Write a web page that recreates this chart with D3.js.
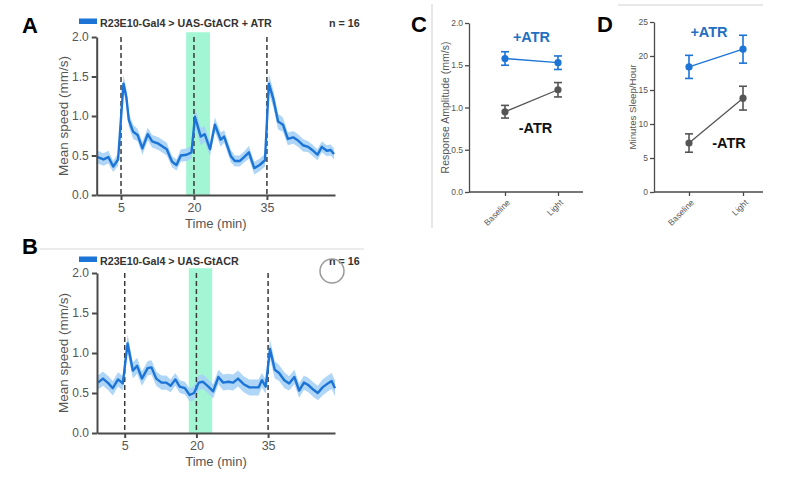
<!DOCTYPE html>
<html>
<head>
<meta charset="utf-8">
<script src="https://cdn.jsdelivr.net/npm/d3@7"></script>
<style>
  body { margin: 0; background: #fff; }
  svg { display: block; font-family: "Liberation Sans", Arial, Helvetica, sans-serif; }
</style>
</head>
<body>
<svg id="fig" width="795" height="498"></svg>
<script>
"use strict";

// ---- data ----

// panel A : R23E10-Gal4 > UAS-GtACR + ATR
var timeA = [0.2, 1.4, 2.4, 3.4, 4.4, 5.5, 6.1, 6.6, 7.5, 8.4,
             9.4, 10.5, 11.4, 12.7, 14.4, 15.5, 16.4, 17.3, 18.5, 19.5,
             20.2, 21.4, 22.2, 23.3, 24.3, 25.5, 26.2, 27.6, 28.4, 29.4,
             30.3, 31.3, 32.4, 33.5, 34.6, 35.4, 36.3, 37.3, 38.3, 39.3,
             40.4, 41.4, 42.4, 43.5, 44.3, 45.4, 46.3, 47.3, 48.1, 48.8];
var speedA = [0.48, 0.45, 0.48, 0.36, 0.45, 1.41, 1.24, 0.95, 0.80, 0.76,
              0.59, 0.77, 0.68, 0.65, 0.58, 0.42, 0.38, 0.50, 0.51, 0.54,
              0.99, 0.74, 0.77, 0.58, 0.89, 0.70, 0.74, 0.49, 0.43, 0.43,
              0.48, 0.54, 0.34, 0.38, 0.44, 1.41, 1.22, 0.93, 0.89, 0.71,
              0.73, 0.69, 0.63, 0.61, 0.57, 0.51, 0.61, 0.56, 0.57, 0.52];
var semA = [0.08, 0.08, 0.08, 0.07, 0.08, 0.11, 0.10, 0.09, 0.09, 0.08,
            0.08, 0.08, 0.08, 0.08, 0.08, 0.07, 0.07, 0.08, 0.08, 0.08,
            0.12, 0.11, 0.10, 0.09, 0.09, 0.09, 0.08, 0.08, 0.07, 0.07,
            0.07, 0.08, 0.08, 0.08, 0.08, 0.12, 0.11, 0.10, 0.09, 0.08,
            0.08, 0.08, 0.08, 0.07, 0.07, 0.07, 0.07, 0.07, 0.07, 0.07];

// panel B : R23E10-Gal4 > UAS-GtACR (no ATR)
var timeB = [-0.6, 0.45, 1.6, 2.5, 3.6, 4.6, 5.6, 6.7, 7.6, 8.6,
             9.8, 10.6, 11.6, 12.7, 13.7, 14.6, 15.6, 16.5, 17.6, 18.6,
             19.5, 20.5, 21.4, 22.5, 23.5, 24.6, 25.6, 26.7, 27.7, 28.7,
             29.9, 31.1, 32.1, 33.0, 33.7, 34.5, 35.4, 36.4, 37.3, 38.4,
             39.4, 40.5, 41.5, 42.5, 43.4, 44.5, 45.4, 46.4, 47.5, 48.3, 49.0];
var speedB = [0.63, 0.68, 0.62, 0.56, 0.67, 0.62, 1.12, 0.78, 0.84, 0.68,
              0.81, 0.82, 0.68, 0.63, 0.63, 0.59, 0.67, 0.58, 0.56, 0.475,
              0.50, 0.63, 0.64, 0.58, 0.52, 0.70, 0.63, 0.64, 0.63, 0.68,
              0.61, 0.57, 0.57, 0.57, 0.66, 0.58, 1.05, 0.79, 0.75, 0.66,
              0.62, 0.70, 0.53, 0.63, 0.60, 0.54, 0.50, 0.57, 0.62, 0.65, 0.56];
var semB = [0.09, 0.09, 0.09, 0.09, 0.09, 0.09, 0.11, 0.10, 0.10, 0.09,
            0.09, 0.09, 0.09, 0.09, 0.09, 0.08, 0.08, 0.08, 0.08, 0.08,
            0.09, 0.09, 0.09, 0.09, 0.09, 0.09, 0.10, 0.10, 0.10, 0.10,
            0.10, 0.10, 0.10, 0.10, 0.09, 0.09, 0.12, 0.11, 0.10, 0.10,
            0.09, 0.09, 0.09, 0.09, 0.09, 0.09, 0.09, 0.10, 0.10, 0.10, 0.10];

var lightOnsets = [5, 20, 35];
var lightWindow = [18.4, 23.3];
var timeTicks = [5, 20, 35];
var speedTicks = [0, 0.5, 1, 1.5, 2];

// panels C and D
var groups = ["Baseline", "Light"];
var ampPlus = [1.58, 1.53],  ampPlusErr = [0.08, 0.08];
var ampMinus = [0.95, 1.21], ampMinusErr = [0.075, 0.085];
var ampTicks = [0, 0.5, 1, 1.5, 2];
var sleepPlus = [18.4, 21.0], sleepPlusErr = [1.7, 2.05];
var sleepMinus = [7.2, 13.8], sleepMinusErr = [1.35, 1.75];
var sleepTicks = [0, 5, 10, 15, 20, 25];

// ---- styling ----
var BLUE = "#1b74d6";
var BAND = "#a6d2f6";
var GREEN = "#a2f6d3";
var AXIS = "#4a4a4a";
var GREYPT = "#555555";

var svg = d3.select("#fig");

var styleAxis = function(g, width, fontSize)
{
    g.selectAll("path.domain").attr("stroke", AXIS).attr("stroke-width", width);
    g.selectAll(".tick line").attr("stroke", AXIS).attr("stroke-width", width);
    g.selectAll(".tick text").attr("fill", "#555").style("font-size", fontSize + "px")
        .style("font-family", "\"Liberation Sans\", Arial, sans-serif");
};

// time course panel (A, B)
var tracePanel = function(cfg)
{
    var g = svg.append("g");
    var x = d3.scaleLinear().domain(cfg.xDomain).range(cfg.xRange);
    var y = d3.scaleLinear().domain([0, 2]).range(cfg.yRange);

    // light stimulation window
    g.append("rect")
        .attr("x", x(lightWindow[0]))
        .attr("width", x(lightWindow[1]) - x(lightWindow[0]))
        .attr("y", y(2.06))
        .attr("height", y(0) - y(2.06))
        .attr("fill", GREEN);

    var pts = cfg.t.map(function(t, i) { return { t: t, v: cfg.v[i], e: cfg.e[i] }; });

    // SEM band
    g.append("path").datum(pts)
        .attr("d", d3.area()
            .x(function(d) { return x(d.t); })
            .y0(function(d) { return y(d.v - d.e); })
            .y1(function(d) { return y(d.v + d.e); }))
        .attr("fill", BAND)
        .attr("opacity", 0.9);

    // dashed onset markers
    g.selectAll("line.onset").data(lightOnsets).enter().append("line")
        .attr("class", "onset")
        .attr("x1", function(d) { return x(d); })
        .attr("x2", function(d) { return x(d); })
        .attr("y1", y(2))
        .attr("y2", y(0))
        .attr("stroke", "#3a3a3a")
        .attr("stroke-width", 1.5)
        .attr("stroke-dasharray", "5,3");

    // mean trace
    g.append("path").datum(pts)
        .attr("d", d3.line()
            .x(function(d) { return x(d.t); })
            .y(function(d) { return y(d.v); }))
        .attr("fill", "none")
        .attr("stroke", BLUE)
        .attr("stroke-width", 2.4)
        .attr("stroke-linejoin", "round");

    // axes
    var yAxis = g.append("g")
        .attr("transform", "translate(" + cfg.xRange[0] + ",0)")
        .call(d3.axisLeft(y).tickValues(speedTicks).tickFormat(d3.format(".1f"))
            .tickSize(5).tickSizeOuter(0).tickPadding(3));
    styleAxis(yAxis, 2, 12);

    var xAxis = g.append("g")
        .attr("transform", "translate(0," + y(0) + ")")
        .call(d3.axisBottom(x).tickValues(timeTicks).tickSize(5).tickSizeOuter(0).tickPadding(3));
    styleAxis(xAxis, 2, 12.5);

    var xMid = (cfg.xRange[0] + cfg.xRange[1]) / 2;
    g.append("text")
        .attr("x", xMid).attr("y", y(0) + 33)
        .attr("text-anchor", "middle").attr("fill", "#555").style("font-size", "13px")
        .text("Time (min)");
    g.append("text")
        .attr("transform", "translate(" + (cfg.xRange[0] - 29) + "," + ((y(0) + y(2)) / 2) + ") rotate(-90)")
        .attr("text-anchor", "middle").attr("fill", "#555").style("font-size", "13.5px")
        .text("Mean speed (mm/s)");

    // legend
    g.append("rect")
        .attr("x", 79).attr("y", cfg.legendY - 3).attr("width", 18).attr("height", 5.5)
        .attr("fill", BLUE);
    g.append("text")
        .attr("x", 100).attr("y", cfg.legendY + 5)
        .attr("fill", "#333").style("font-size", "10.7px").style("font-weight", "bold")
        .text(cfg.legend);
    g.append("text")
        .attr("x", 329).attr("y", cfg.legendY + 5)
        .attr("fill", "#333").style("font-size", "10.7px").style("font-weight", "bold")
        .text("n = 16");

    // panel letter
    g.append("text")
        .attr("x", 22).attr("y", cfg.letterY)
        .attr("fill", "#000").style("font-size", "22px").style("font-weight", "bold")
        .text(cfg.letter);
};

// two point comparison panel (C, D)
var pairPanel = function(cfg)
{
    var g = svg.append("g");
    var x = d3.scalePoint().domain(groups).range([cfg.cat0, cfg.cat1]);
    var y = d3.scaleLinear().domain([0, cfg.yMax]).range([cfg.y0, cfg.y1]);

    var series = [
        { vals: cfg.minus, errs: cfg.minusErr, color: GREYPT },
        { vals: cfg.plus,  errs: cfg.plusErr,  color: BLUE }
    ];

    series.forEach(function(s)
    {
        var pts = groups.map(function(k, i) { return { k: k, v: s.vals[i], e: s.errs[i] }; });

        g.append("path").datum(pts)
            .attr("d", d3.line().x(function(d) { return x(d.k); }).y(function(d) { return y(d.v); }))
            .attr("fill", "none").attr("stroke", s.color).attr("stroke-width", 1.3);

        var eb = g.selectAll(null).data(pts).enter().append("g").attr("stroke", s.color).attr("stroke-width", 1.6);
        eb.append("line")
            .attr("x1", function(d) { return x(d.k); }).attr("x2", function(d) { return x(d.k); })
            .attr("y1", function(d) { return y(d.v - d.e); }).attr("y2", function(d) { return y(d.v + d.e); });
        eb.append("line")
            .attr("x1", function(d) { return x(d.k) - 4; }).attr("x2", function(d) { return x(d.k) + 4; })
            .attr("y1", function(d) { return y(d.v - d.e); }).attr("y2", function(d) { return y(d.v - d.e); });
        eb.append("line")
            .attr("x1", function(d) { return x(d.k) - 4; }).attr("x2", function(d) { return x(d.k) + 4; })
            .attr("y1", function(d) { return y(d.v + d.e); }).attr("y2", function(d) { return y(d.v + d.e); });

        g.selectAll(null).data(pts).enter().append("circle")
            .attr("cx", function(d) { return x(d.k); })
            .attr("cy", function(d) { return y(d.v); })
            .attr("r", 3.6)
            .attr("fill", s.color);
    });

    // axes
    var yAxis = g.append("g")
        .attr("transform", "translate(" + cfg.left + ",0)")
        .call(d3.axisLeft(y).tickValues(cfg.ticks).tickFormat(cfg.fmt).tickSize(4).tickSizeOuter(0).tickPadding(2));
    styleAxis(yAxis, 1.3, 8.5);

    var xAxis = g.append("g")
        .attr("transform", "translate(0," + cfg.y0 + ")")
        .call(d3.axisBottom(x).tickSize(4).tickSizeOuter(0));
    xAxis.select("path.domain").attr("d", "M" + cfg.left + ",0H" + cfg.right);
    styleAxis(xAxis, 1.3, 8.5);
    xAxis.selectAll(".tick text")
        .attr("y", 0).attr("dy", "0.35em")
        .attr("text-anchor", "end")
        .attr("transform", "translate(3,9) rotate(-45)");

    g.append("text")
        .attr("transform", "translate(" + cfg.yLabelX + "," + ((cfg.y0 + cfg.y1) / 2) + ") rotate(-90)")
        .attr("text-anchor", "middle").attr("fill", "#555").style("font-size", cfg.yLabelSize + "px")
        .text(cfg.yLabel);

    // group labels
    var mid = (x(groups[0]) + x(groups[1])) / 2;
    g.append("text")
        .attr("x", mid + cfg.plusDx).attr("y", y(cfg.plusAt))
        .attr("text-anchor", "middle").attr("fill", "#1f6fc2")
        .style("font-size", "14.5px").style("font-weight", "bold")
        .text("+ATR");
    g.append("text")
        .attr("x", mid + cfg.minusDx).attr("y", y(cfg.minusAt))
        .attr("text-anchor", "middle").attr("fill", "#111")
        .style("font-size", "14.5px").style("font-weight", "bold")
        .text("-ATR");

    g.append("text")
        .attr("x", cfg.letterX).attr("y", 32)
        .attr("fill", "#000").style("font-size", "22px").style("font-weight", "bold")
        .text(cfg.letter);
};

// ---- faint separator lines from the composite figure ----
svg.append("line").attr("x1", 40).attr("x2", 364).attr("y1", 249).attr("y2", 249)
    .attr("stroke", "#d8d8d8").attr("stroke-width", 1);
svg.append("line").attr("x1", 432).attr("x2", 432).attr("y1", 4).attr("y2", 228)
    .attr("stroke", "#cfcfcf").attr("stroke-width", 1);
svg.append("line").attr("x1", 618).attr("x2", 763).attr("y1", 5).attr("y2", 5)
    .attr("stroke", "#d0d0d0").attr("stroke-width", 1);

tracePanel({
    t: timeA, v: speedA, e: semA,
    xDomain: [0, 49], xRange: [96.7, 335],
    yRange: [195, 37],
    legend: "R23E10-Gal4 > UAS-GtACR + ATR", legendY: 21.5,
    letter: "A", letterY: 33
});

tracePanel({
    t: timeB, v: speedB, e: semB,
    xDomain: [-0.8, 49], xRange: [97, 335],
    yRange: [433, 273],
    legend: "R23E10-Gal4 > UAS-GtACR", legendY: 259.5,
    letter: "B", letterY: 254
});

// cursor ring captured in the screenshot
svg.append("circle").attr("cx", 332).attr("cy", 271).attr("r", 12)
    .attr("fill", "none").attr("stroke", "#999").attr("stroke-width", 1.5);

pairPanel({
    letter: "C", letterX: 411,
    plus: ampPlus, plusErr: ampPlusErr, minus: ampMinus, minusErr: ampMinusErr,
    yMax: 2, ticks: ampTicks, fmt: d3.format(".1f"),
    left: 469, right: 583, cat0: 505, cat1: 558, y0: 192, y1: 23,
    yLabel: "Response Amplitude (mm/s)", yLabelX: 449, yLabelSize: 10.5,
    plusDx: 0, plusAt: 1.78, minusDx: 4, minusAt: 0.70
});

pairPanel({
    letter: "D", letterX: 597,
    plus: sleepPlus, plusErr: sleepPlusErr, minus: sleepMinus, minusErr: sleepMinusErr,
    yMax: 25, ticks: sleepTicks, fmt: d3.format("d"),
    left: 654, right: 763, cat0: 689, cat1: 743, y0: 192, y1: 22,
    yLabel: "Minutes Sleep/Hour", yLabelX: 636, yLabelSize: 9.7,
    plusDx: -7, plusAt: 22.8, minusDx: 13, minusAt: 6.5
});
</script>
</body>
</html>
